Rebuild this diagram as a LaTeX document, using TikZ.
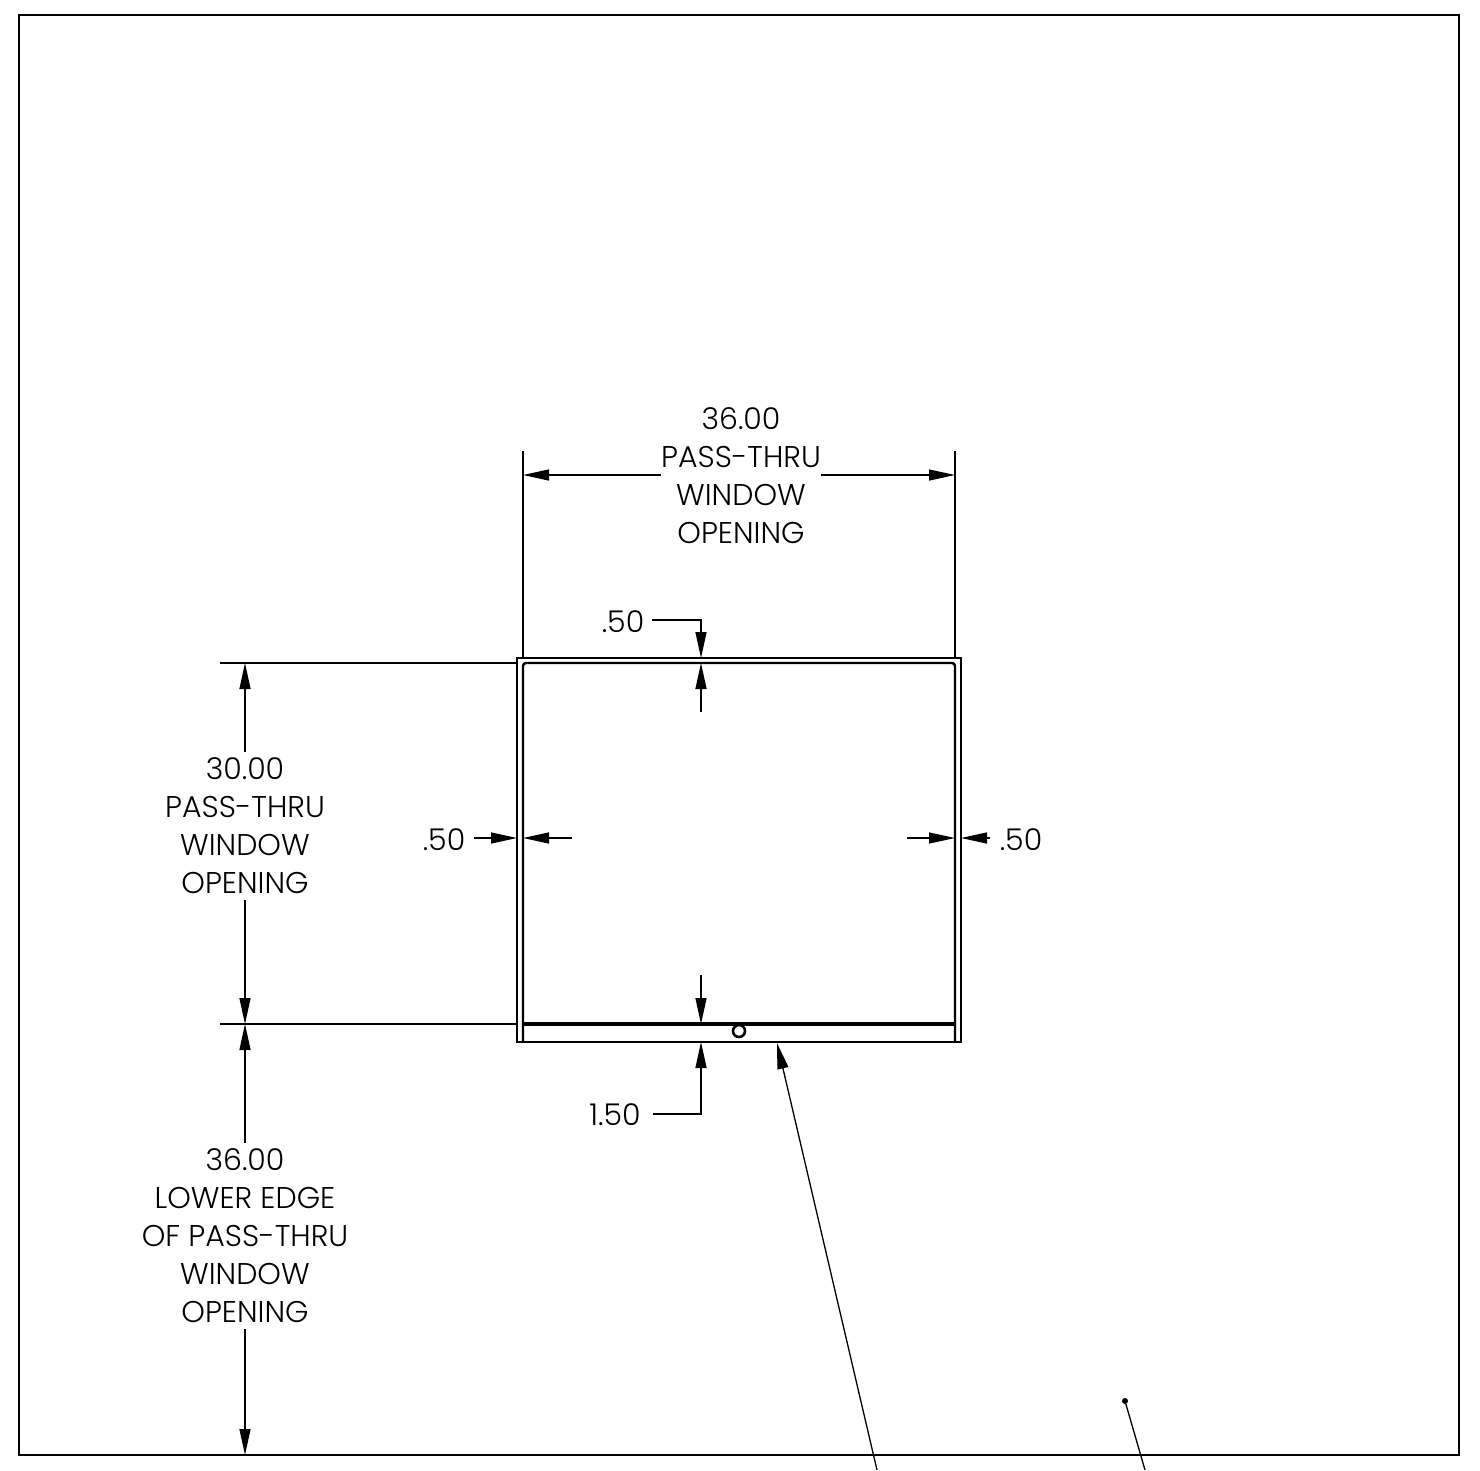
\documentclass[tikz,border=0pt]{standalone}
\usepackage{fontspec}
\setmainfont{Poppins}[UprightFont=* Light]
\usetikzlibrary{arrows.meta}

\begin{document}
\begin{tikzpicture}[
    x=1pt, y=-1pt,
    sheet/.style={draw, line width=2pt, outer sep=0pt},
    part/.style={draw, line width=2.4pt},
    thin line/.style={draw, line width=1.3pt},
    dim/.style={thin line, -{Stealth[length=26pt, width=11pt, inset=0pt]}},
    label/.style={font=\fontsize{30}{38}\selectfont, align=center, inner sep=0pt, outer ysep=6pt}
]
\useasboundingbox (0,0) rectangle (1480,1470);

\node[sheet, minimum width=1440pt, minimum height=1440pt, anchor=north west, inner sep=0pt] (frame) at (19,15) {};

% window
\coordinate (outerNW) at (517,658);
\coordinate (outerSE) at (961,1042);
\coordinate (innerNW) at (523,663);
\coordinate (innerNE) at (955,663);
\coordinate (innerSW) at (523,1042);
\coordinate (innerSE) at (955,1042);
\coordinate (sillW) at (523,1024);
\coordinate (sillE) at (955,1024);
\draw[part] (outerNW) rectangle (outerSE);
\draw[part, rounded corners=3pt] (innerSW) -- (innerNW) -- (innerNE) -- (innerSE);
\draw[part, line width=3.2pt] (sillW) -- (sillE);
\node[part, line width=2.6pt, circle, minimum size=12pt, inner sep=0pt] (latch) at (739,1031) {};

% labels
\node[label] (widthText) at (741,476) {36.00\\PASS-THRU\\WINDOW\\OPENING};
\node[label] (heightText) at (245,826) {30.00\\PASS-THRU\\WINDOW\\OPENING};
\node[label] (lowerText) at (245,1236) {36.00\\LOWER EDGE\\OF PASS-THRU\\WINDOW\\OPENING};
\node[label] (topText) at (623,622) {.50};
\node[label] (leftText) at (444,840) {.50};
\node[label] (rightText) at (1021,840) {.50};
\node[label] (sillText) at (615,1115) {1.50};

% width
\coordinate (extL) at (523,451);
\coordinate (extLb) at (523,658);
\coordinate (extR) at (955,451);
\coordinate (extRb) at (955,658);
\coordinate (dimL) at (523,475);
\coordinate (dimR) at (955,475);
\draw[thin line] (extL) -- (extLb);
\draw[thin line] (extR) -- (extRb);
\draw[dim] (widthText.west |- dimL) -- (dimL);
\draw[dim] (widthText.east |- dimR) -- (dimR);

% height
\coordinate (extT) at (220,663);
\coordinate (extTb) at (517,663);
\coordinate (extS) at (220,1024);
\coordinate (extSb) at (517,1024);
\coordinate (dimT) at (245,663);
\coordinate (dimS) at (245,1024);
\coordinate (dimF) at (245,1455);
\draw[thin line] (extT) -- (extTb);
\draw[thin line] (extS) -- (extSb);
\draw[dim] (heightText.north) -- (dimT);
\draw[dim] (heightText.south) -- (dimS);
\draw[dim] (lowerText.north) -- (dimS);
\draw[dim] (lowerText.south) -- (dimF);

% .50 top
\coordinate (topKnee) at (701,620);
\coordinate (topTip) at (701,658);
\coordinate (topTail) at (701,712);
\coordinate (topTipb) at (701,663);
\draw[dim] (topText.east |- topKnee) ++(8,0) -- (topKnee) -- (topTip);
\draw[dim] (topTail) -- (topTipb);

% .50 left
\coordinate (leftTip) at (517,838);
\coordinate (leftTipb) at (523,838);
\coordinate (leftTail) at (572,838);
\draw[dim] (leftText.east |- leftTip) ++(9,0) -- (leftTip);
\draw[dim] (leftTail) -- (leftTipb);

% .50 right
\coordinate (rightTip) at (955,838);
\coordinate (rightTipb) at (961,838);
\coordinate (rightTail) at (907,838);
\draw[dim] (rightTail) -- (rightTip);
\draw[dim] (rightText.west |- rightTipb) ++(-10,0) -- (rightTipb);

% 1.50
\coordinate (sillKnee) at (701,1114);
\coordinate (sillTip) at (701,1042);
\coordinate (sillTail) at (701,975);
\coordinate (sillTipb) at (701,1024);
\draw[dim] (sillText.east |- sillKnee) ++(12,0) -- (sillKnee) -- (sillTip);
\draw[dim] (sillTail) -- (sillTipb);

% leaders
\coordinate (leadA) at (877,1470);
\coordinate (leadATip) at (777,1043);
\coordinate (leadB) at (1145,1470);
\node[circle, fill, inner sep=0pt, minimum size=6pt] (leadBDot) at (1125,1401) {};
\draw[dim] (leadA) -- (leadATip);
\draw[thin line] (leadB) -- (leadBDot);

\end{tikzpicture}
\end{document}
